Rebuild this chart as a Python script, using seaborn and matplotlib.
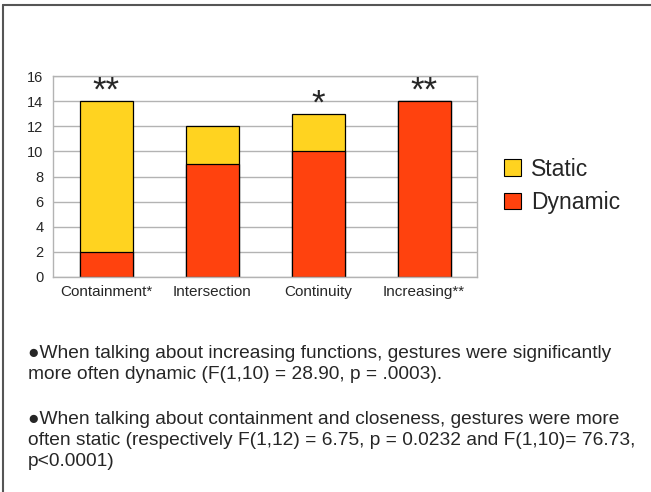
import matplotlib
matplotlib.use("Agg")
import matplotlib.pyplot as plt
import seaborn as sns
import pandas as pd
from matplotlib.lines import Line2D
from matplotlib.patches import Patch

# data
categories = ['Containment*', 'Intersection', 'Continuity', 'Increasing**']
dynamic = [2, 9, 10, 14]
static = [12, 3, 3, 0]
stars = ['**', '', '*', '**']

bullet_lines = [
    "\u25cfWhen talking about increasing functions, gestures were significantly\n"
    "more often dynamic (F(1,10) = 28.90, p = .0003).",
    "\u25cfWhen talking about containment and closeness, gestures were more\n"
    "often static (respectively F(1,12) = 6.75, p = 0.0232 and F(1,10)= 76.73,\n"
    "p<0.0001)",
]

col_static = '#ffd320'
col_dynamic = '#ff420e'
grid_col = '#b3b3b3'

sns.set_style('white')
plt.rcParams['font.family'] = ['Liberation Sans', 'DejaVu Sans']

df = pd.DataFrame({'cat': categories, 'dynamic': dynamic, 'static': static})
df['total'] = df['dynamic'] + df['static']

fig = plt.figure(figsize=(6.51, 4.92), dpi=100)
ax = fig.add_axes([53 / 651, 1 - 277 / 492, 424 / 651, 201 / 492])

# totals first (yellow), then dynamic part on top of it
sns.barplot(data=df, x='cat', y='total', color=col_static, saturation=1,
            width=0.5, edgecolor='black', linewidth=0.9, ax=ax)
sns.barplot(data=df, x='cat', y='dynamic', color=col_dynamic, saturation=1,
            width=0.5, edgecolor='black', linewidth=0.9, ax=ax)

ax.set_xlim(-0.5, 3.5)
ax.set_ylim(0, 16)
ax.set_yticks(range(0, 17, 2))
ax.set_xlabel('')
ax.set_ylabel('')
ax.yaxis.grid(True, color=grid_col, linewidth=1)
ax.set_axisbelow(True)
for s in ax.spines.values():
    s.set_color(grid_col)
    s.set_linewidth(1)
ax.tick_params(axis='y', length=5, color=grid_col, pad=2, labelsize=10.5)
ax.tick_params(axis='x', length=0, pad=6, labelsize=11)
ax.set_xticks([-0.5, 0.5, 1.5, 2.5, 3.5], minor=True)
ax.tick_params(axis='x', which='minor', length=5, color=grid_col)

for i, s in enumerate(stars):
    if s:
        ax.text(i, df['total'][i] - 0.55, s, ha='center', va='bottom', fontsize=25)

handles = [Patch(facecolor=col_static, edgecolor='black', linewidth=0.8),
           Patch(facecolor=col_dynamic, edgecolor='black', linewidth=0.8)]
fig.legend(handles, ['Static', 'Dynamic'], loc='upper left',
           bbox_to_anchor=(483 / 651, 1 - 137 / 492), frameon=False,
           fontsize=16.5, handlelength=0.75, handleheight=0.75,
           handletextpad=0.45, labelspacing=0.45)

fig.text(28 / 651, 1 - 345 / 492, bullet_lines[0], fontsize=13.8,
         va='top', ha='left', linespacing=1.3)
fig.text(28 / 651, 1 - 411 / 492, bullet_lines[1], fontsize=13.8,
         va='top', ha='left', linespacing=1.3)

# slide border
fig.add_artist(Line2D([3 / 651, 1], [1 - 5 / 492] * 2, color='#555555', lw=1.5,
                      transform=fig.transFigure))
fig.add_artist(Line2D([3 / 651] * 2, [0, 1 - 5 / 492], color='#555555', lw=1.5,
                      transform=fig.transFigure))

fig.savefig('out.png', dpi=100)
